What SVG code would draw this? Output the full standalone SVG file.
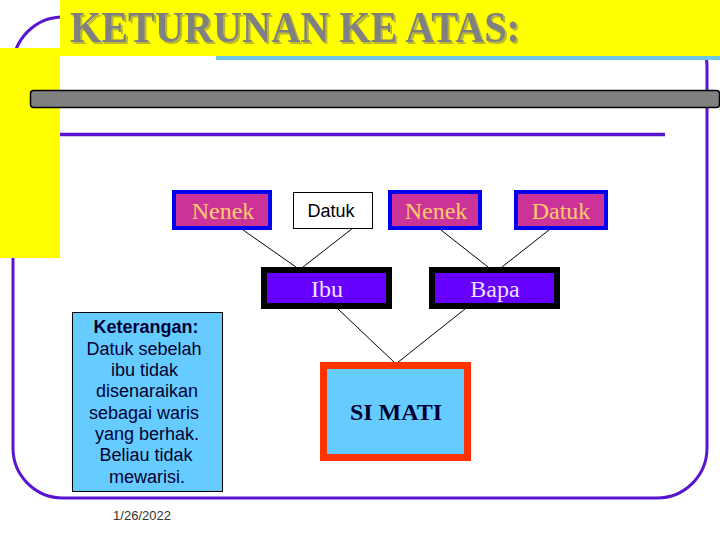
<svg xmlns="http://www.w3.org/2000/svg" width="720" height="540" viewBox="0 0 720 540">
<defs>
<filter id="shadow" x="-5%" y="-20%" width="110%" height="150%">
<feOffset in="SourceAlpha" dx="2" dy="2" result="off"/>
<feFlood flood-color="#b8b830"/>
<feComposite in2="off" operator="in" result="sh"/>
<feMerge><feMergeNode in="sh"/><feMergeNode in="SourceGraphic"/></feMerge>
</filter>
</defs>
<style>
.nen{fill:#cc3399;stroke:#0000ee;stroke-width:4}
.par{fill:#6600ff;stroke:#000;stroke-width:6}
.ser{font-family:"Liberation Serif","Times New Roman",serif;font-size:24px;text-anchor:middle}
.ytxt{fill:#ffcc66}
.ltxt{fill:#f0e0ff}
.note{font-family:"Liberation Sans",Arial,sans-serif;font-size:18px;fill:#000033;text-anchor:middle}
.conn line{stroke:#000;stroke-width:1}
</style>
<rect width="720" height="540" fill="#fff"/>
<g id="frame">
<rect x="13" y="17" width="694" height="481" rx="50" ry="50" fill="none" stroke="#5a14d0" stroke-width="3"/>
</g>
<g id="banner">
<rect x="60" y="0" width="660" height="56" fill="#ffff00"/>
<rect x="0" y="48" width="60" height="210" fill="#ffff00"/>
<rect x="216" y="56" width="504" height="4" fill="#70c8e8"/>
<text x="70" y="42" font-family="'Liberation Serif','Times New Roman',serif" font-size="44" font-weight="bold" fill="#808080" textLength="450" lengthAdjust="spacingAndGlyphs" filter="url(#shadow)">KETURUNAN KE ATAS:</text>
</g>
<g id="bars">
<rect x="30.5" y="90.5" width="689" height="17" rx="3" fill="#808080" stroke="#000" stroke-width="1.5"/>
<line x1="60" y1="134.5" x2="665" y2="134.5" stroke="#5a14d0" stroke-width="3.5"/>
</g>
<g class="conn" id="connectors">
<line x1="243" y1="230" x2="296" y2="267"/>
<line x1="353" y1="228" x2="303" y2="267"/>
<line x1="441" y1="230" x2="488" y2="267"/>
<line x1="549" y1="230" x2="502" y2="267"/>
<line x1="338" y1="309" x2="395" y2="363"/>
<line x1="465" y1="309" x2="397" y2="363"/>
</g>
<g id="nenek1">
<rect class="nen" x="174" y="192" width="96" height="36"/>
<text class="ser ytxt" x="223" y="219">Nenek</text>
</g>
<g id="datuk1">
<rect x="293.5" y="192.5" width="79" height="36" fill="#fff" stroke="#000" stroke-width="1"/>
<text x="331" y="217" font-family="'Liberation Sans',Arial,sans-serif" font-size="18" fill="#000" text-anchor="middle">Datuk</text>
</g>
<g id="nenek2">
<rect class="nen" x="390" y="192" width="90" height="36"/>
<text class="ser ytxt" x="436" y="219">Nenek</text>
</g>
<g id="datuk2">
<rect class="nen" x="516" y="192" width="90" height="36"/>
<text class="ser ytxt" x="561" y="219">Datuk</text>
</g>
<g id="ibu">
<rect class="par" x="264" y="270" width="125" height="36"/>
<text class="ser ltxt" x="327" y="297">Ibu</text>
</g>
<g id="bapa">
<rect class="par" x="432" y="270" width="125" height="36"/>
<text class="ser ltxt" x="495" y="297">Bapa</text>
</g>
<g id="simati">
<rect x="323.5" y="365.5" width="144" height="92" fill="#66ccff" stroke="#ff3300" stroke-width="7"/>
<text class="ser" x="396" y="420" font-weight="bold" fill="#000033">SI MATI</text>
</g>
<g id="keterangan">
<rect x="72.5" y="312.5" width="150" height="179" fill="#66ccff" stroke="#000" stroke-width="1"/>
<text class="note" x="146" y="333" font-weight="bold">Keterangan:</text>
<text class="note" x="144" y="355">Datuk sebelah</text>
<text class="note" x="144.5" y="376">ibu tidak</text>
<text class="note" x="147" y="397">disenaraikan</text>
<text class="note" x="144" y="419">sebagai waris</text>
<text class="note" x="147" y="440">yang berhak.</text>
<text class="note" x="146" y="461">Beliau tidak</text>
<text class="note" x="147" y="483">mewarisi.</text>
</g>
<g id="date">
<text x="142" y="520" font-family="'Liberation Sans',Arial,sans-serif" font-size="13" fill="#333" text-anchor="middle">1/26/2022</text>
</g>
</svg>
